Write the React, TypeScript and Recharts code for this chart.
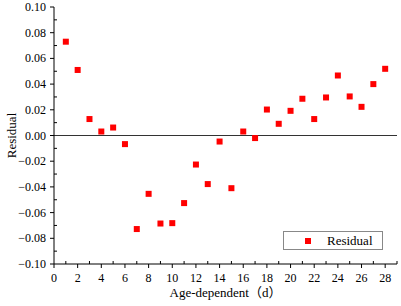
import React from 'react';
import { ScatterChart, Scatter, XAxis, YAxis, ReferenceLine, Legend } from 'recharts';

const ages = [1, 2, 3, 4, 5, 6, 7, 8, 9, 10, 11, 12, 13, 14, 15, 16, 17, 18, 19, 20, 21, 22, 23, 24, 25, 26, 27, 28];
const residuals = [
  0.073, 0.051, 0.0128, 0.0031, 0.0062, -0.0067, -0.0728, -0.0454, -0.0685, -0.0682,
  -0.0526, -0.0226, -0.0378, -0.0047, -0.041, 0.0031, -0.002, 0.0202, 0.0091, 0.0192,
  0.0286, 0.0128, 0.0296, 0.0467, 0.0304, 0.0223, 0.040, 0.0519,
];
const xTicks = [0, 1, 2, 3, 4, 5, 6, 7, 8, 9, 10, 11, 12, 13, 14, 15, 16, 17, 18, 19, 20, 21, 22, 23, 24, 25, 26, 27, 28, 29];
const xMajor = [0, 2, 4, 6, 8, 10, 12, 14, 16, 18, 20, 22, 24, 26, 28];
const yTicks = [-0.1, -0.09, -0.08, -0.07, -0.06, -0.05, -0.04, -0.03, -0.02, -0.01, 0, 0.01, 0.02, 0.03, 0.04, 0.05, 0.06, 0.07, 0.08, 0.09, 0.1];
const yMajorLabels = ['-0.10', '-0.08', '-0.06', '-0.04', '-0.02', '0.00', '0.02', '0.04', '0.06', '0.08', '0.10'];

const data = ages.map((a, i) => ({ x: a, y: residuals[i] }));

const FONT = '"Liberation Serif", "Times New Roman", "Noto Sans CJK SC", serif';

const fmtY = (v: number) => {
  const s = Math.abs(v).toFixed(2);
  return v < -1e-9 ? '\u2212' + s : s;
};

const XTick = (props: any) => {
  const { x, y, payload } = props;
  const v = payload.value;
  const major = xMajor.includes(v);
  if (major) {
    return (
      <g>
        <line x1={x} y1={y} x2={x} y2={y + 4} stroke="#000" strokeWidth={1} />
        <text x={x} y={y + 18} textAnchor="middle" fontFamily={FONT} fontSize={12} fill="#000">{v}</text>
      </g>
    );
  }
  return <line x1={x} y1={y} x2={x} y2={y - 3} stroke="#000" strokeWidth={1} />;
};

const YTick = (props: any) => {
  const { x, y, payload } = props;
  const v = payload.value;
  const label = fmtY(v);
  const major = yMajorLabels.map((s) => s.replace('-', '\u2212')).includes(label);
  if (major) {
    return (
      <g>
        <line x1={x - 4} y1={y} x2={x} y2={y} stroke="#000" strokeWidth={1} />
        <text x={x - 8} y={y + 4} textAnchor="end" fontFamily={FONT} fontSize={12} fill="#000">{label}</text>
      </g>
    );
  }
  return <line x1={x} y1={y} x2={x + 3} y2={y} stroke="#000" strokeWidth={1} />;
};

const SquareShape = (props: any) => {
  const { cx, cy } = props;
  return <rect x={cx - 3} y={cy - 3} width={6} height={6} fill="#ff0000" />;
};

const LegendContent = () => (
  <div
    style={{
      position: 'absolute',
      left: 0,
      top: 0,
      width: 100,
      height: 19,
      boxSizing: 'border-box',
      border: '1px solid #888',
      background: '#fff',
      fontFamily: FONT,
      fontSize: 13,
    }}
  >
    <div style={{ position: 'absolute', left: 21, top: 6, width: 6, height: 6, background: '#ff0000' }} />
    <div style={{ position: 'absolute', left: 43, top: 1, lineHeight: '15px', color: '#000', whiteSpace: 'nowrap' }}>Residual</div>
  </div>
);

export default function App() {
  return (
    <div style={{ position: 'absolute', left: 0, top: 0, width: 401, height: 306, background: '#fff' }}>
      <ScatterChart width={401} height={306} margin={{ top: 7, right: 4, bottom: 12, left: 0 }}>
        <XAxis
          type="number"
          dataKey="x"
          domain={[0, 29]}
          ticks={xTicks}
          interval={0}
          tickSize={0}
          tickMargin={0}
          tickLine={false}
          tick={<XTick />}
          axisLine={{ stroke: '#000', strokeWidth: 1 }}
          height={30}
          allowDataOverflow
          label={{ value: 'Age-dependent（d）', position: 'insideBottom', offset: -3, fontFamily: FONT, fontSize: 13, fill: '#000' }}
        />
        <YAxis
          type="number"
          dataKey="y"
          domain={[-0.1, 0.1]}
          ticks={yTicks}
          interval={0}
          tickSize={0}
          tickMargin={0}
          tickLine={false}
          tick={<YTick />}
          axisLine={{ stroke: '#000', strokeWidth: 1 }}
          width={54}
          allowDataOverflow
          label={{ value: 'Residual', angle: -90, position: 'insideLeft', offset: 11, style: { textAnchor: 'middle' }, fontFamily: FONT, fontSize: 13, fill: '#000' }}
        />
        <ReferenceLine y={0} stroke="#333" strokeWidth={1} />
        <Scatter name="Residual" data={data} fill="#ff0000" shape={<SquareShape />} isAnimationActive={false} />
        <Legend
          content={<LegendContent />}
          wrapperStyle={{ position: 'absolute', left: 283, top: 231, width: 0, height: 0, bottom: 'auto', right: 'auto', overflow: 'visible' }}
        />
      </ScatterChart>
    </div>
  );
}
